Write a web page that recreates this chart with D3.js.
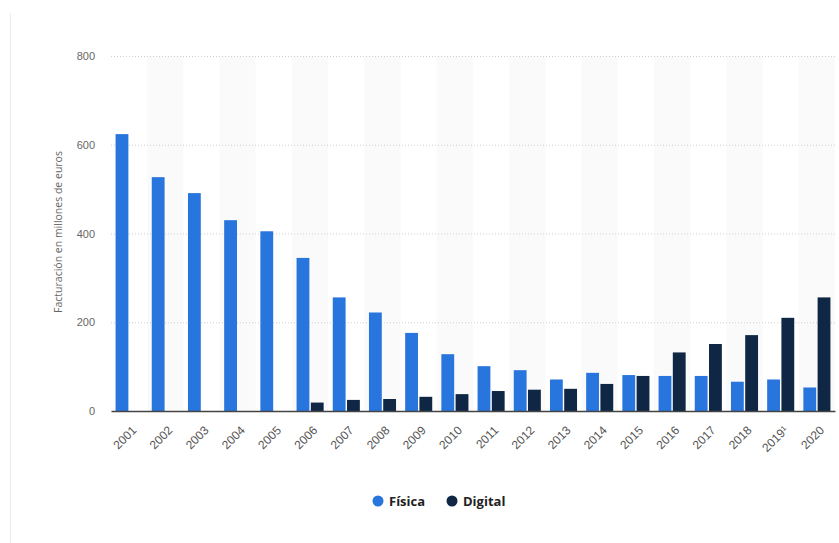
<!DOCTYPE html>
<html><head><meta charset="utf-8">
<script src="https://cdn.jsdelivr.net/npm/d3@7"></script>
<style>
html,body{margin:0;padding:0;background:#fff;}
svg{display:block;font-family:"Open Sans",sans-serif;}
</style></head>
<body><svg id="chart" width="839" height="543"></svg>
<script>
const years = ["2001","2002","2003","2004","2005","2006","2007","2008","2009","2010","2011","2012","2013","2014","2015","2016","2017","2018","2019¹","2020"];
const fisica = [624,527,491,430,405,345,256,222,176,128,101,92,71,86,81,79,79,66,71,53];
const digital = [0,0,0,0,0,19,25,27,32,38,45,48,50,61,79,132,151,171,210,256];
const yTicks = [0,200,400,600,800];
const seriesNames = ["Física","Digital"];
const colors = ["#2876dd","#0f2744"];

const svg = d3.select("#chart");
const m = {left:111, right:835, top:56, bottom:411};

svg.append("line").attr("x1",10.5).attr("x2",10.5).attr("y1",13).attr("y2",543).attr("stroke","#ececec");

const x = d3.scaleBand().domain(years).range([m.left,m.right]).paddingInner(0).paddingOuter(0);
const x1 = d3.scaleBand().domain(seriesNames).range([0,x.bandwidth()]).paddingInner(0.1).paddingOuter(0.32);
const y = d3.scaleLinear().domain([0,800]).range([m.bottom,m.top]);

svg.append("g").selectAll("rect").data(years.filter((d,i)=>i%2===1)).join("rect")
  .attr("x",d=>x(d)).attr("width",x.bandwidth()).attr("y",m.top).attr("height",m.bottom-m.top)
  .attr("fill","#fafafa");

svg.append("g").selectAll("line").data(yTicks.filter(t=>t>0)).join("line")
  .attr("x1",m.left).attr("x2",m.right).attr("y1",d=>y(d)+0.5).attr("y2",d=>y(d)+0.5)
  .attr("stroke","#cfcfcf").attr("stroke-dasharray","1,2");

const yAxis = svg.append("g").attr("transform",`translate(${m.left},0)`)
  .call(d3.axisLeft(y).tickValues(yTicks).tickSize(0).tickPadding(16));
yAxis.select(".domain").remove();
yAxis.selectAll("text").attr("fill","#666").style("font-size","11px");

svg.append("text").attr("transform","translate(62,232) rotate(-90)")
  .attr("text-anchor","middle").attr("fill","#666").style("font-size","10.5px")
  .text("Facturación en millones de euros");

const g = svg.append("g");
years.forEach((yr,i)=>{
  [fisica[i],digital[i]].forEach((v,j)=>{
    if(v<=0) return;
    g.append("rect").attr("x",x(yr)+x1(seriesNames[j])).attr("width",x1.bandwidth())
      .attr("y",y(v)).attr("height",y(0)-y(v)).attr("fill",colors[j]);
  });
});

const xAxis = svg.append("g").attr("transform",`translate(0,${m.bottom})`)
  .call(d3.axisBottom(x).tickSize(0).tickPadding(10));
xAxis.select(".domain").attr("stroke","#444").attr("stroke-width",1.5);
xAxis.selectAll("text").attr("fill","#555").style("font-size","12px")
  .attr("text-anchor","end").attr("dy","0.35em")
  .attr("transform","translate(-2,10) rotate(-45)");

const leg = svg.append("g");
const legX = [378,452];
seriesNames.forEach((s,i)=>{
  leg.append("circle").attr("cx",legX[i]).attr("cy",501).attr("r",5.5).attr("fill",colors[i]);
  leg.append("text").attr("x",legX[i]+11).attr("y",505.5).attr("fill","#222")
    .style("font-size","13px").style("font-weight","bold").text(s);
});
</script></body></html>
